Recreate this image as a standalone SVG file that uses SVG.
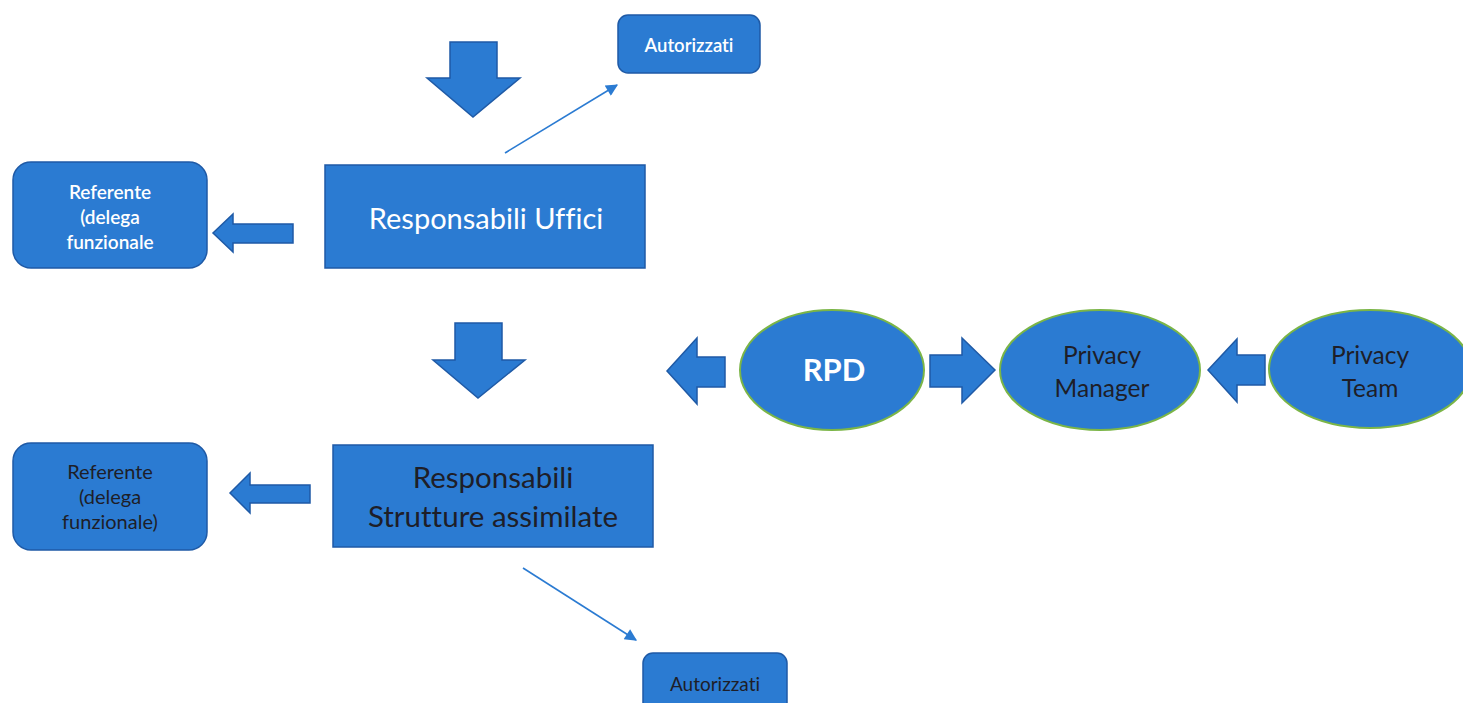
<svg xmlns="http://www.w3.org/2000/svg" width="1463" height="703" viewBox="0 0 1463 703">
<defs>
<style>
.box{fill:#2b7bd2;stroke:#1f5aa6;stroke-width:1.5}
.ell{fill:#2b7bd2;stroke:#7bb547;stroke-width:2}
.barrow{fill:#2b7bd2;stroke:#1f5aa6;stroke-width:1.5;stroke-linejoin:miter}
.line{stroke:#2b7bd2;stroke-width:1.6;fill:none}
text{font-family:Lato,"Open Sans","Liberation Sans",sans-serif;text-anchor:middle;font-variant-ligatures:none}
.w{fill:#ffffff}
.d{fill:#1e1e28}
</style>
<marker id="ah" viewBox="0 0 10 10" refX="9" refY="5" markerWidth="14" markerHeight="12" markerUnits="userSpaceOnUse" orient="auto">
<path d="M0,0 L10,5 L0,10 z" fill="#2b7bd2"/>
</marker>
</defs>
<rect width="1463" height="703" fill="#ffffff"/>
<g id="connectors">
<polygon class="barrow" points="450,42 497,42 497,78 520,78 473,117 427,78 450,78"/>
<polygon class="barrow" points="455,323 502,323 502,360 525,360 478,398 433,360 455,360"/>
<polygon class="barrow" points="293,224 293,243 233,243 233,252 213,233 233,214 233,224"/>
<polygon class="barrow" points="310,485 310,503 250,503 250,513 230,493 250,473 250,485"/>
<polygon class="barrow" points="725,357 725,387 697,387 697,404 667,371 697,338 697,357"/>
<polygon class="barrow" points="930,355 962,355 962,338 995,370 962,403 962,387 930,387"/>
<polygon class="barrow" points="1265,355 1265,385 1237,385 1237,402 1208,370 1237,339 1237,355"/>
<line class="line" x1="505" y1="153" x2="617" y2="85" marker-end="url(#ah)"/>
<line class="line" x1="523" y1="568" x2="636" y2="640" marker-end="url(#ah)"/>
</g>
<g id="autorizzati-top">
<rect class="box" x="618" y="15" width="142" height="58" rx="10"/>
<text class="w" x="689" y="52" font-size="18.5" font-weight="600">Autorizzati</text>
</g>
<g id="referente-top">
<rect class="box" x="13" y="162" width="194" height="106" rx="18"/>
<text class="w" x="110" y="199" font-size="19" font-weight="600">Referente</text>
<text class="w" x="110" y="224" font-size="19" font-weight="600">(delega</text>
<text class="w" x="110" y="249" font-size="19" font-weight="600">funzionale</text>
</g>
<g id="responsabili-uffici">
<rect class="box" x="325" y="165" width="320" height="103"/>
<text class="w" x="486" y="229" font-size="29">Responsabili Uffici</text>
</g>
<g id="referente-bottom">
<rect class="box" x="13" y="443" width="194" height="107" rx="18"/>
<text class="d" x="110" y="479" font-size="20">Referente</text>
<text class="d" x="110" y="504" font-size="20">(delega</text>
<text class="d" x="110" y="529" font-size="20">funzionale)</text>
</g>
<g id="responsabili-strutture">
<rect class="box" x="333" y="445" width="320" height="102"/>
<text class="d" x="493" y="488" font-size="29.5">Responsabili</text>
<text class="d" x="493" y="527" font-size="29.5">Strutture assimilate</text>
</g>
<g id="autorizzati-bottom">
<rect class="box" x="643" y="653" width="144" height="70" rx="10"/>
<text class="d" x="715" y="691" font-size="19">Autorizzati</text>
</g>
<g id="rpd">
<ellipse class="ell" cx="832" cy="370" rx="92" ry="60"/>
<text class="w" x="834" y="381" font-size="31" font-weight="700">RPD</text>
</g>
<g id="privacy-manager">
<ellipse class="ell" cx="1100" cy="370" rx="100" ry="60"/>
<text class="d" x="1102" y="364" font-size="24.5">Privacy</text>
<text class="d" x="1102" y="397" font-size="24.5">Manager</text>
</g>
<g id="privacy-team">
<ellipse class="ell" cx="1370" cy="369" rx="101" ry="59"/>
<text class="d" x="1370" y="364" font-size="24.5">Privacy</text>
<text class="d" x="1370" y="397" font-size="24.5">Team</text>
</g>
</svg>
